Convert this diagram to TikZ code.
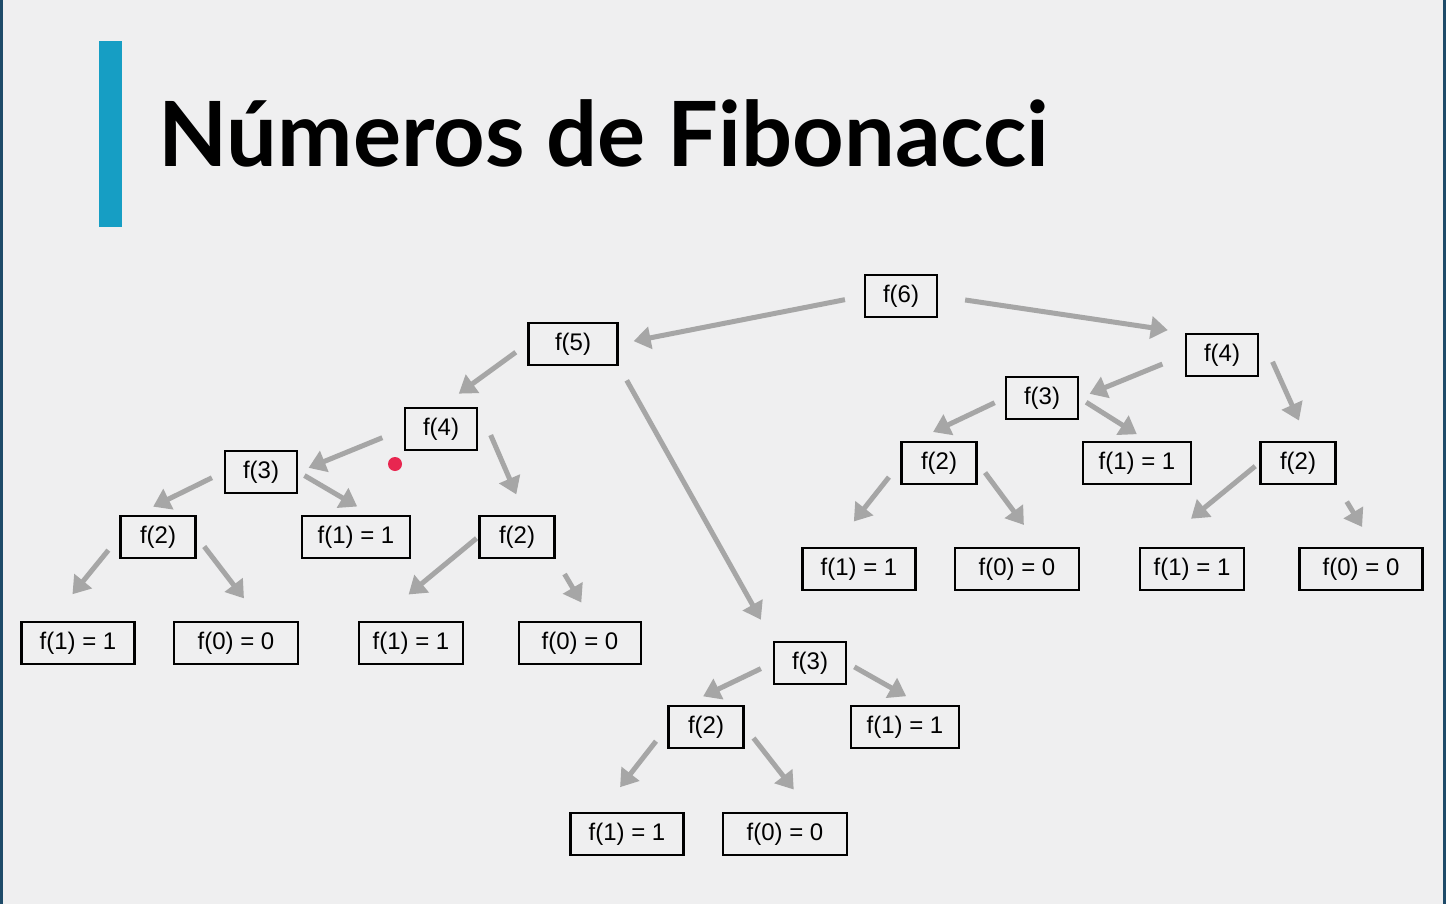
\documentclass[tikz,border=0pt]{standalone}
\usepackage{fontspec}
\setmainfont{Liberation Sans}
\newfontfamily\latofont{Lato}
\usepackage{tikz}
\usetikzlibrary{arrows.meta}

\definecolor{bgcol}{RGB}{239,239,240}
\definecolor{edgecol}{RGB}{30,75,105}
\definecolor{barcol}{RGB}{22,158,196}
\definecolor{arrcol}{RGB}{166,166,166}
\definecolor{dotcol}{RGB}{232,38,80}

\begin{document}
\begin{tikzpicture}[x=0.5pt,y=-0.5pt,
    fbox/.style={draw=black, line width=1.4pt, minimum height=21pt, minimum width=36pt,
        inner sep=0pt, font=\fontsize{12}{14}\selectfont},
    fone/.style={fbox, minimum width=54pt},
    fzero/.style={fbox, minimum width=62pt},
    arr/.style={draw=arrcol, line width=2.5pt, -{Triangle[width=11pt,length=8.5pt]}}]
    \useasboundingbox (0,0) rectangle (1446,904);
    \fill[bgcol] (0,0) rectangle (1446,904);
    \fill[edgecol] (0,0) rectangle (3,904);
    \fill[edgecol] (1443,0) rectangle (1446,904);

    \fill[barcol] (99,41) rectangle (122,227);
    \node[anchor=base west, inner sep=0pt, font=\latofont\bfseries\fontsize{45}{50}\selectfont]
        (title) at (158,167) {Números de Fibonacci};

    \node[fbox] (f6) at (901,296) {f(6)};
    \node[fbox, minimum width=44.5pt] (f5) at (573,344) {f(5)};
    \node[fbox] (f4r) at (1222,355) {f(4)};
    \node[fbox] (f4l) at (441,429) {f(4)};
    \node[fbox] (f3l) at (261,472) {f(3)};
    \node[fbox, minimum width=37.5pt] (f2a) at (158,537) {f(2)};
    \node[fone] (f1a) at (356,537) {f(1) = 1};
    \node[fbox, minimum width=37.5pt] (f2b) at (517,537) {f(2)};
    \node[fone, minimum width=56.5pt] (la1) at (78,643) {f(1) = 1};
    \node[fzero] (la0) at (236,643) {f(0) = 0};
    \node[fone, minimum width=52pt] (lb1) at (411,643) {f(1) = 1};
    \node[fzero, minimum width=61pt] (lb0) at (580,643) {f(0) = 0};

    \node[fbox] (f3r) at (1042,398) {f(3)};
    \node[fbox, minimum width=37.5pt] (f2c) at (939,463) {f(2)};
    \node[fone] (f1c) at (1137,463) {f(1) = 1};
    \node[fbox, minimum width=37.5pt] (f2d) at (1298,463) {f(2)};
    \node[fone, minimum width=56.5pt] (lc1) at (859,569) {f(1) = 1};
    \node[fzero] (lc0) at (1017,569) {f(0) = 0};
    \node[fone, minimum width=52pt] (ld1) at (1192,569) {f(1) = 1};
    \node[fzero, minimum width=61.5pt] (ld0) at (1361,569) {f(0) = 0};

    \node[fbox] (f3b) at (810,663) {f(3)};
    \node[fbox, minimum width=37.5pt] (f2e) at (706,727) {f(2)};
    \node[fone] (f1e) at (905,727) {f(1) = 1};
    \node[fone, minimum width=56.5pt] (le1) at (627,834) {f(1) = 1};
    \node[fzero] (le0) at (785,834) {f(0) = 0};

    \draw[arr, shorten <=9.5pt, shorten >=7.5pt] (f6.west) -- (f5.east);
    \draw[arr, shorten <=13.5pt, shorten >=8.5pt] (f6.east) -- (f4r.north west);
    \draw[arr, shorten <=7pt, shorten >=11pt] (f5.west) -- (f4l.north);
    \draw[arr, shorten <=8pt, shorten >=12pt] (f5.south east) -- (f3b.north west);

    \draw[arr, shorten <=11.5pt, shorten >=5.5pt] (f4l.west) -- (f3l.east);
    \draw[arr, shorten <=15.5pt, shorten >=11pt] (f4l.north east) -- ([xshift=4pt]f2b.north);
    \draw[arr, shorten <=6.5pt, shorten >=9pt] (f3l.west) -- ([xshift=-10.5pt]f2a.north);
    \draw[arr, shorten <=3.5pt, shorten >=8pt] (f3l.east) -- ([xshift=7.5pt]f1a.north);
    \draw[arr, shorten <=8.5pt, shorten >=17pt] (f2a.west) -- ([xshift=-13.5pt]la1.north);
    \draw[arr, shorten <=6pt, shorten >=14pt] (f2a.east) -- ([xshift=12.5pt]la0.north);
    \draw[arr, shorten <=1pt, shorten >=20.5pt] (f2b.west) -- ([xshift=-17pt]lb1.north);
    \draw[arr, shorten <=8.5pt, shorten >=10.5pt] (f2b.south east) -- ([xshift=6pt]lb0.north);

    \draw[arr, shorten <=12pt, shorten >=5.5pt] (f4r.west) -- (f3r.east);
    \draw[arr, shorten <=16pt, shorten >=11pt] (f4r.north east) -- ([xshift=5pt]f2d.north);
    \draw[arr, shorten <=5.5pt, shorten >=10pt] (f3r.west) -- ([xshift=-12pt]f2c.north);
    \draw[arr, shorten <=4pt, shorten >=6pt] (f3r.east) -- ([xshift=5pt]f1c.north);
    \draw[arr, shorten <=9pt, shorten >=16pt] (f2c.west) -- ([xshift=-12.5pt]lc1.north);
    \draw[arr, shorten <=6pt, shorten >=13.5pt] (f2c.east) -- ([xshift=11.5pt]lc0.north);
    \draw[arr, shorten <=2.5pt, shorten >=22pt] (f2d.west) -- ([xshift=-17.5pt]ld1.north);
    \draw[arr, shorten <=9.5pt, shorten >=11.5pt] (f2d.south east) -- ([xshift=6.5pt]ld0.north);

    \draw[arr, shorten <=6.5pt, shorten >=9.5pt] (f3b.west) -- ([xshift=-10pt]f2e.north);
    \draw[arr, shorten <=4pt, shorten >=8.5pt] (f3b.east) -- ([xshift=8pt]f1e.north);
    \draw[arr, shorten <=9pt, shorten >=15.5pt] (f2e.west) -- ([xshift=-13pt]le1.north);
    \draw[arr, shorten <=7pt, shorten >=14pt] (f2e.east) -- ([xshift=13pt]le0.north);

    \fill[dotcol] (395,464) circle (3.5pt);
\end{tikzpicture}
\end{document}
